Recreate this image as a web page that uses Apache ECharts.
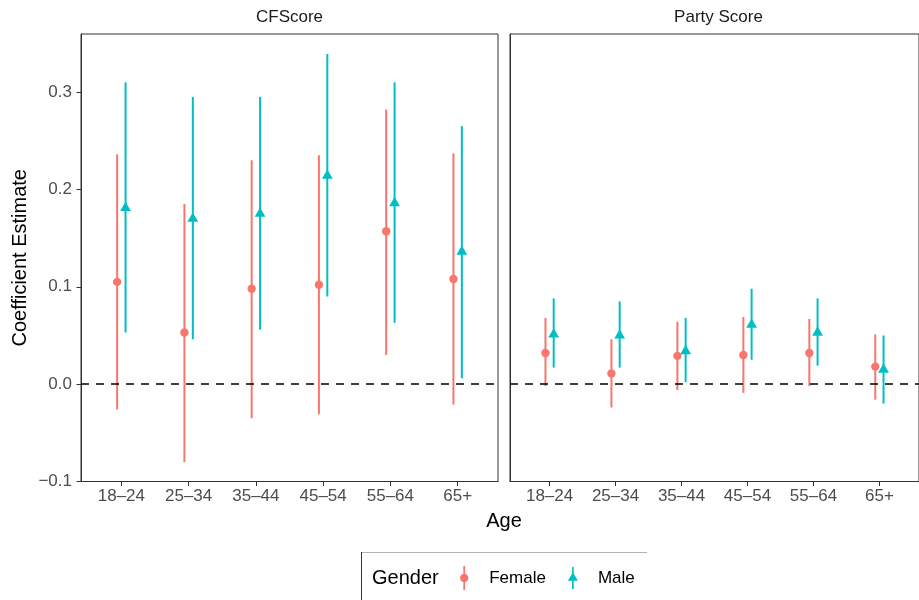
<!DOCTYPE html>
<html>
<head>
<meta charset="utf-8">
<script src="https://cdn.jsdelivr.net/npm/echarts@6/dist/echarts.min.js"></script>
<style>html,body{margin:0;padding:0;background:#fff}#c{width:919px;height:600px}</style>
</head>
<body>
<div id="c"></div>
<script>
// ---- data ----
const categories = ['18\u201324', '25\u201334', '35\u201344', '45\u201354', '55\u201364', '65+'];
const panelTitles = ['CFScore', 'Party Score'];
const genders = ['Female', 'Male'];
const yTicks = [-0.1, 0.0, 0.1, 0.2, 0.3];

const cfFemaleEst = [0.105, 0.053, 0.098, 0.102, 0.157, 0.108];
const cfFemaleLo  = [-0.026, -0.080, -0.035, -0.031, 0.030, -0.021];
const cfFemaleHi  = [0.236, 0.185, 0.230, 0.235, 0.282, 0.237];
const cfMaleEst   = [0.181, 0.170, 0.175, 0.214, 0.186, 0.136];
const cfMaleLo    = [0.053, 0.046, 0.056, 0.090, 0.063, 0.006];
const cfMaleHi    = [0.310, 0.295, 0.295, 0.339, 0.310, 0.265];

const psFemaleEst = [0.032, 0.011, 0.029, 0.030, 0.032, 0.018];
const psFemaleLo  = [-0.002, -0.024, -0.006, -0.009, -0.002, -0.016];
const psFemaleHi  = [0.068, 0.046, 0.064, 0.069, 0.067, 0.051];
const psMaleEst   = [0.051, 0.050, 0.034, 0.061, 0.053, 0.015];
const psMaleLo    = [0.017, 0.017, 0.002, 0.025, 0.019, -0.020];
const psMaleHi    = [0.088, 0.085, 0.068, 0.098, 0.088, 0.050];

// ---- styling ----
const FONT = '"Liberation Sans", Arial, Helvetica, sans-serif';
const COLORS = {Female: '#F8766D', Male: '#00BFC4'};
const DODGE = {Female: -0.0625, Male: 0.0625};
const panels = [
  {Female: [cfFemaleEst, cfFemaleLo, cfFemaleHi], Male: [cfMaleEst, cfMaleLo, cfMaleHi]},
  {Female: [psFemaleEst, psFemaleLo, psFemaleHi], Male: [psMaleEst, psMaleLo, psMaleHi]}
];
const gridLefts = [81, 510];
const GRID_W = 417, GRID_TOP = 34, GRID_H = 447.5;
const catIdx = categories.map((c, i) => i);

const fmtY = v => (v < 0 ? '\u2212' + Math.abs(v).toFixed(1) : Math.abs(v).toFixed(1));

const grids = [], xAxes = [], yAxes = [], series = [];
panels.forEach((panel, p) => {
  grids.push({left: gridLefts[p], top: GRID_TOP, width: GRID_W, height: GRID_H,
    show: true, borderColor: '#333333', borderWidth: 1, backgroundColor: 'transparent', containLabel: false});
  xAxes.push({type: 'value', gridIndex: p, min: -0.6, max: 5.6,
    splitLine: {show: false},
    axisLine: {show: true, onZero: false, lineStyle: {color: '#333333', width: 1}},
    axisTick: {show: true, length: 4.5, customValues: catIdx, lineStyle: {color: '#333333', width: 1}},
    axisLabel: {show: true, customValues: catIdx, margin: 6, formatter: v => categories[Math.round(v)],
      fontSize: 17, fontFamily: FONT, color: '#4d4d4d'}
  });
  yAxes.push({type: 'value', gridIndex: p, min: -0.1, max: 0.3596,
    name: p === 0 ? 'Coefficient Estimate' : '',
    nameLocation: 'middle', nameGap: 51, nameRotate: 90,
    nameTextStyle: {fontSize: 20, fontFamily: FONT, color: '#000'},
    splitLine: {show: false},
    axisLine: {show: true, onZero: false, lineStyle: {color: '#333333', width: 1}},
    axisTick: {show: p === 0, length: 4.5, customValues: yTicks, lineStyle: {color: '#333333', width: 1}},
    axisLabel: {show: p === 0, customValues: yTicks, margin: 9, formatter: fmtY,
      fontSize: 17, fontFamily: FONT, color: '#4d4d4d'}
  });
  // zero reference line
  series.push({type: 'line', xAxisIndex: p, yAxisIndex: p, data: [], silent: true,
    markLine: {silent: true, symbol: ['none', 'none'], label: {show: false},
      lineStyle: {type: [8, 7], color: '#000', width: 1.6},
      data: [{yAxis: 0}]}
  });
  genders.forEach(g => {
    const [est, lo, hi] = panel[g];
    series.push({type: 'custom', name: g + ' CI', xAxisIndex: p, yAxisIndex: p, z: 3, silent: true,
      data: catIdx.map(i => [i + DODGE[g], lo[i], hi[i]]),
      encode: {x: 0, y: [1, 2]},
      renderItem: (params, api) => {
        const x = api.value(0);
        const a = api.coord([x, api.value(1)]);
        const b = api.coord([x, api.value(2)]);
        return {type: 'line', shape: {x1: a[0], y1: a[1], x2: b[0], y2: b[1]},
          style: {stroke: COLORS[g], lineWidth: 2}};
      }
    });
    series.push({type: 'scatter', name: g, xAxisIndex: p, yAxisIndex: p, z: 4, silent: true,
      data: catIdx.map(i => [i + DODGE[g], est[i]]),
      symbol: g === 'Female' ? 'circle' : 'triangle',
      symbolSize: g === 'Female' ? 8.4 : [10.8, 9.3],
      symbolOffset: g === 'Female' ? [0, 0] : [0, -1.55],
      itemStyle: {color: COLORS[g], opacity: 1}
    });
  });
});

// legend glyphs: vertical error line with the point marker (same winding so fills union)
const femaleIcon = 'path://M4.1,0 L5.9,0 L5.9,24 L4.1,24 Z M0.8,12 A4.2,4.2 0 1,1 9.2,12 A4.2,4.2 0 1,1 0.8,12 Z';
const maleIcon = 'path://M4.1,0 L5.9,0 L5.9,24 L4.1,24 Z M-0.4,15.1 L5,5.8 L10.4,15.1 Z';

const option = {
  animation: false,
  backgroundColor: '#ffffff',
  grid: grids,
  xAxis: xAxes,
  yAxis: yAxes,
  series: series,
  legend: {
    left: 460, top: 566, orient: 'horizontal', padding: 0,
    itemWidth: 10, itemHeight: 24, itemGap: 22,
    selectedMode: false,
    data: [{name: 'Female', icon: femaleIcon}, {name: 'Male', icon: maleIcon}],
    textStyle: {fontSize: 17, fontFamily: FONT, color: '#000', padding: [0, 0, 0, 15]}
  },
  graphic: [
    {type: 'text', x: (gridLefts[0] + gridLefts[0] + GRID_W) / 2, y: 17,
      style: {text: panelTitles[0], fontSize: 17, fontFamily: FONT, fill: '#1a1a1a', align: 'center', verticalAlign: 'middle'}},
    {type: 'text', x: (gridLefts[1] + gridLefts[1] + GRID_W) / 2, y: 17,
      style: {text: panelTitles[1], fontSize: 17, fontFamily: FONT, fill: '#1a1a1a', align: 'center', verticalAlign: 'middle'}},
    {type: 'text', x: (gridLefts[0] + gridLefts[1] + GRID_W) / 2, y: 521,
      style: {text: 'Age', fontSize: 20, fontFamily: FONT, fill: '#000', align: 'center', verticalAlign: 'middle'}},
    {type: 'text', x: 372, y: 578,
      style: {text: 'Gender', fontSize: 20, fontFamily: FONT, fill: '#000', align: 'left', verticalAlign: 'middle'}},
    {type: 'line', shape: {x1: 361, y1: 552.5, x2: 647, y2: 552.5}, style: {stroke: '#b3b3b3', lineWidth: 1}},
    {type: 'line', shape: {x1: 361.5, y1: 552, x2: 361.5, y2: 600}, style: {stroke: '#333333', lineWidth: 1}}
  ]
};

const chart = echarts.init(document.getElementById('c'), null, {renderer: 'canvas'});
chart.setOption(option);
</script>
</body>
</html>
